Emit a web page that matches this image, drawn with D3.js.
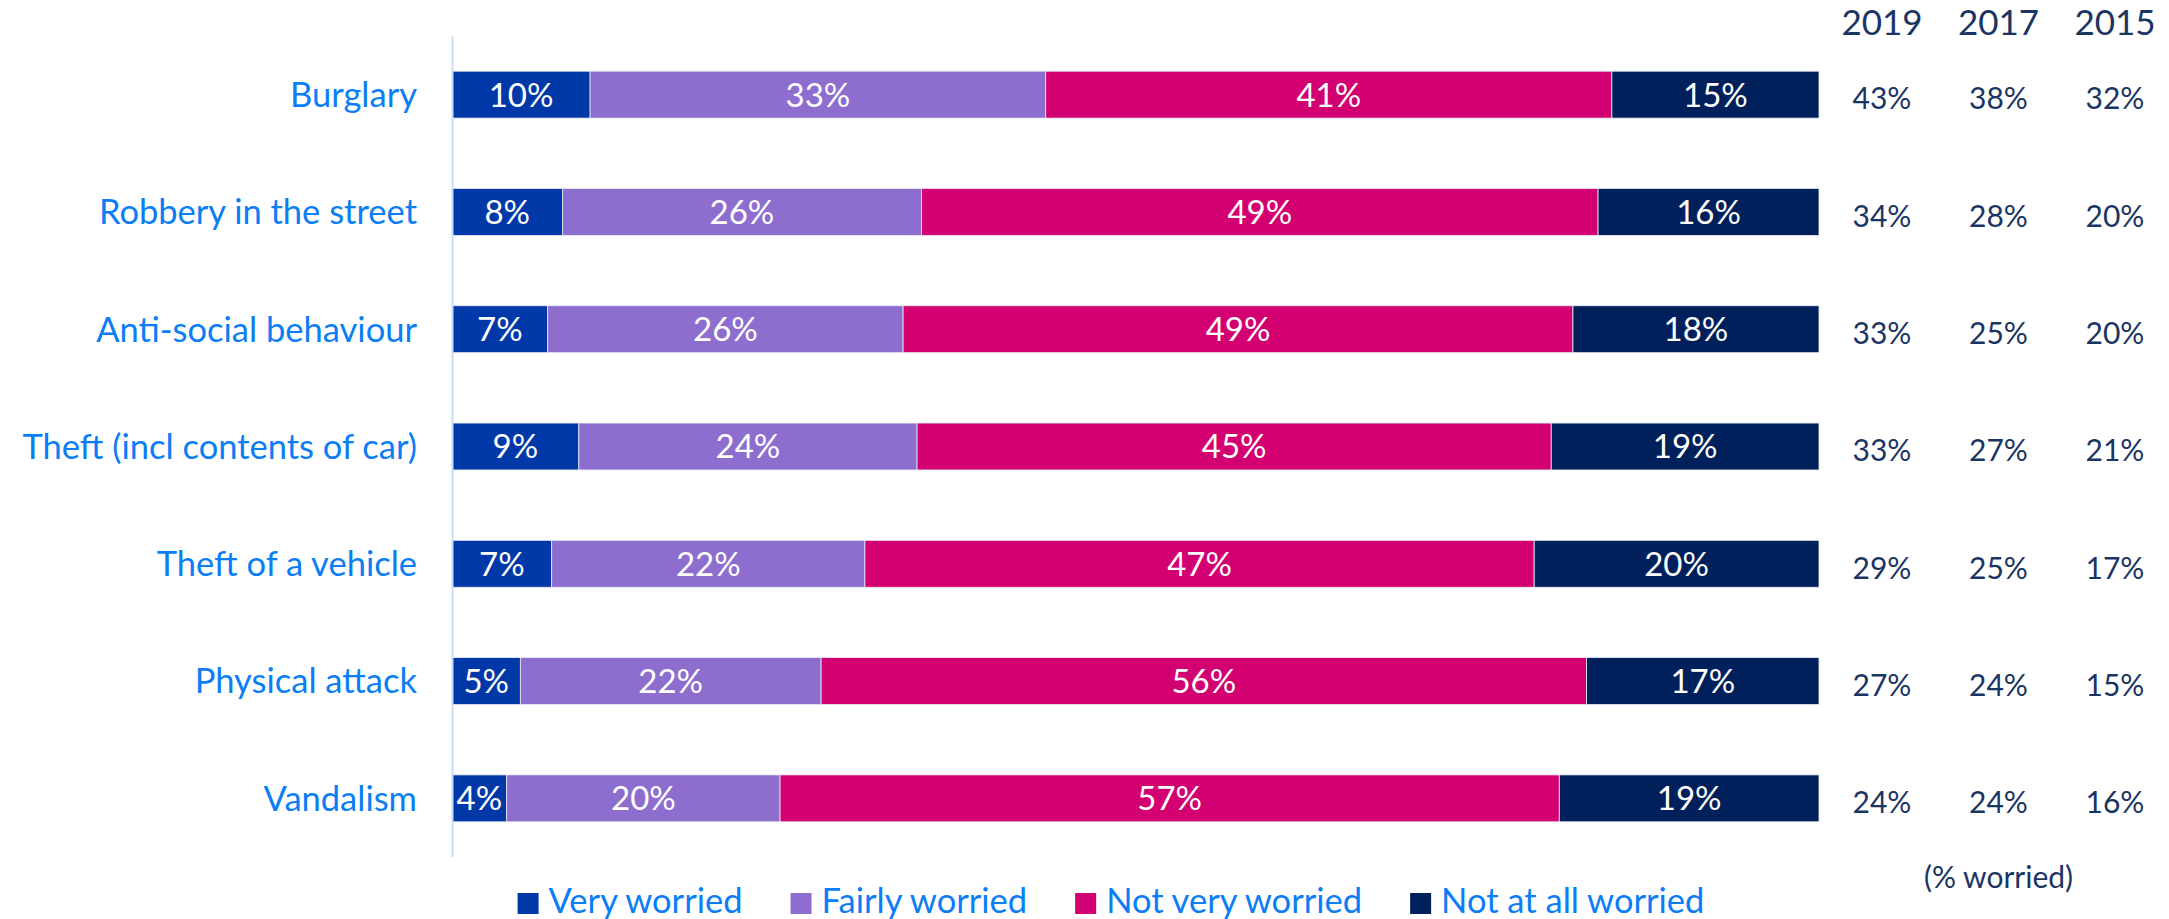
<!DOCTYPE html>
<html>
<head>
<meta charset="utf-8">
<script src="https://cdn.jsdelivr.net/npm/d3@7"></script>
<style>
  body { margin: 0; background: #fff; }
  text { font-family: Lato, "Open Sans", sans-serif; }
</style>
</head>
<body>
<script>
// Data
const categories = [
    "Burglary",
    "Robbery in the street",
    "Anti-social behaviour",
    "Theft (incl contents of car)",
    "Theft of a vehicle",
    "Physical attack",
    "Vandalism",
];
const segments = ["Very worried", "Fairly worried", "Not very worried", "Not at all worried"];
const veryWorried = [10, 8, 7, 9, 7, 5, 4];
const fairlyWorried = [33, 26, 26, 24, 22, 22, 20];
const notVeryWorried = [41, 49, 49, 45, 47, 56, 57];
const notAtAllWorried = [15, 16, 18, 19, 20, 17, 19];
const years = ["2019", "2017", "2015"];
const worried2019 = [43, 34, 33, 33, 29, 27, 24];
const worried2017 = [38, 28, 25, 27, 25, 24, 24];
const worried2015 = [32, 20, 20, 21, 17, 15, 16];

// Configuration
const width = 2169;
const height = 919;
const labelBlue = "#0b7df5";
const navyText = "#1b3563";

const rows = categories.map((c, i) => ({
    category: c,
    "Very worried": veryWorried[i],
    "Fairly worried": fairlyWorried[i],
    "Not very worried": notVeryWorried[i],
    "Not at all worried": notAtAllWorried[i],
    "2019": worried2019[i],
    "2017": worried2017[i],
    "2015": worried2015[i],
}));

// Scales
const x = d3.scaleLinear().domain([0, 1]).range([452, 1819]);
const y = d3.scaleBand().domain(categories).range([36, 857]).paddingInner(0.6).paddingOuter(0.3);
const z = d3.scaleOrdinal().domain(segments).range(["#0038a8", "#8d6ecf", "#d20070", "#00205c"]);
const yr = d3.scalePoint().domain(years).range([1882, 2115]);

const svg = d3.select("body")
    .append("svg")
    .attr("width", width)
    .attr("height", height);

// Stacked (100%) data
const stackedData = d3.stack().keys(segments).offset(d3.stackOffsetExpand)(rows);

// Bars
const layer = svg.append("g")
    .selectAll("g")
    .data(stackedData)
    .join("g")
    .attr("fill", (d) => z(d.key));

layer.selectAll("rect")
    .data((d) => d.map((v) => Object.assign(v, { key: d.key })))
    .join("rect")
    .attr("x", (d) => x(d[0]))
    .attr("y", (d) => y(d.data.category))
    .attr("width", (d) => x(d[1]) - x(d[0]))
    .attr("height", y.bandwidth())
    .attr("stroke", "#e8ecf5")
    .attr("stroke-width", 0.8);

// Bar labels
layer.selectAll("text")
    .data((d) => d)
    .join("text")
    .attr("x", (d) => (x(d[0]) + x(d[1])) / 2)
    .attr("y", (d) => y(d.data.category) + y.bandwidth() / 2)
    .attr("dy", "0.36em")
    .attr("text-anchor", "middle")
    .attr("fill", "#fff")
    .attr("font-size", "33px")
    .text((d) => d.data[d.key] + "%");

// Category axis
const axis = svg.append("g")
    .attr("transform", `translate(${x(0)},0)`)
    .call(d3.axisLeft(y).tickSize(0).tickPadding(35));
axis.select(".domain").attr("stroke", "#c4defa").attr("stroke-width", 2);
axis.selectAll(".tick text")
    .attr("fill", labelBlue)
    .attr("font-size", "34.5px")
    .attr("font-family", "Lato, sans-serif")
    .attr("dy", "0.36em");

// Year columns
svg.append("g")
    .selectAll("text")
    .data(years)
    .join("text")
    .attr("x", (d) => yr(d))
    .attr("y", 35)
    .attr("text-anchor", "middle")
    .attr("fill", navyText)
    .attr("font-size", "35px")
    .text((d) => d);

svg.append("g")
    .selectAll("g")
    .data(years)
    .join("g")
    .selectAll("text")
    .data((yk) => rows.map((r) => ({ yk, r })))
    .join("text")
    .attr("x", (d) => yr(d.yk))
    .attr("y", (d) => y(d.r.category) + y.bandwidth() / 2 + 4)
    .attr("dy", "0.36em")
    .attr("text-anchor", "middle")
    .attr("fill", navyText)
    .attr("font-size", "30px")
    .text((d) => d.r[d.yk] + "%");

svg.append("text")
    .attr("x", yr("2017"))
    .attr("y", 888)
    .attr("text-anchor", "middle")
    .attr("fill", navyText)
    .attr("font-size", "30px")
    .text("(% worried)");

// Legend
const legend = svg.append("g").attr("class", "legend");
let lx = 0;
segments.forEach((s) => {
    const item = legend.append("g").attr("transform", `translate(${lx},0)`);
    item.append("rect").attr("x", 0).attr("y", 893).attr("width", 21).attr("height", 21).attr("fill", z(s));
    const t = item.append("text")
        .attr("x", 31)
        .attr("y", 913)
        .attr("fill", labelBlue)
        .attr("font-size", "34.5px")
        .text(s);
    lx += 31 + t.node().getComputedTextLength() + 48;
});
const legendWidth = lx - 48;
legend.attr("transform", `translate(${1111 - legendWidth / 2},0)`);
</script>
</body>
</html>
